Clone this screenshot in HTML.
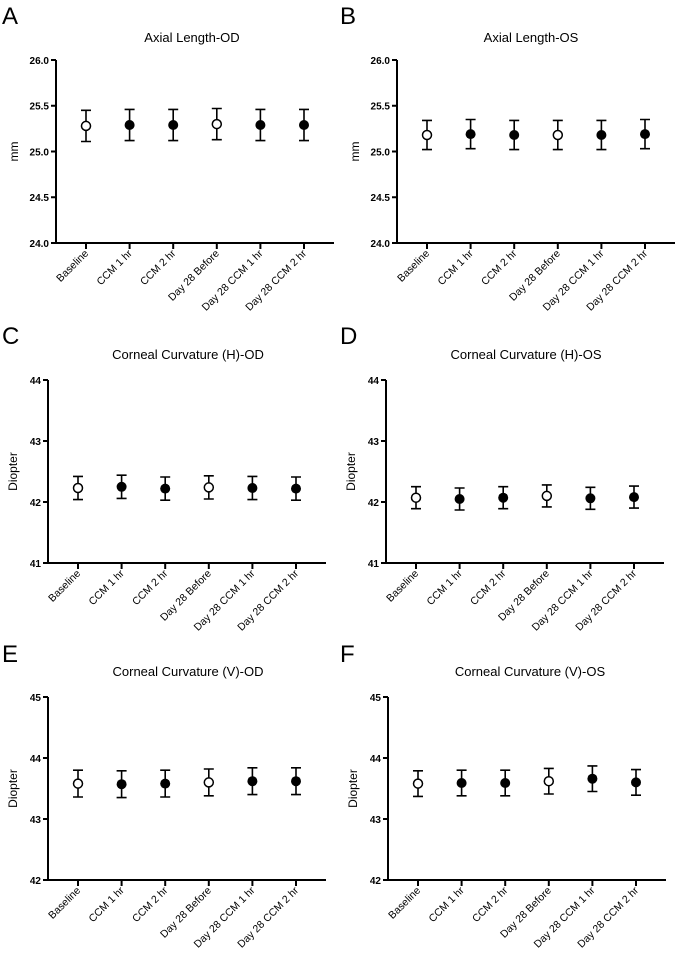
<!DOCTYPE html>
<html><head><meta charset="utf-8"><style>
body{margin:0;background:#fff}
svg{display:block;font-family:"Liberation Sans",sans-serif}
.ax{stroke:#000;stroke-width:2;fill:none}
.eb{stroke:#000;stroke-width:1.6;fill:none}
.tl{font-size:10px;text-anchor:end;font-weight:bold}
.xl{font-size:10.5px;text-anchor:end}
.tt{font-size:13px;text-anchor:middle}
.yl{font-size:12px;text-anchor:middle}
.pl{font-size:24px}
</style></head><body>
<svg width="675" height="954" viewBox="0 0 675 954">
<defs>
<g id="xt">
<line class="ax" x1="30" y1="183" x2="30" y2="189"/><line class="ax" x1="73.6" y1="183" x2="73.6" y2="189"/><line class="ax" x1="117.2" y1="183" x2="117.2" y2="189"/><line class="ax" x1="160.8" y1="183" x2="160.8" y2="189"/><line class="ax" x1="204.4" y1="183" x2="204.4" y2="189"/><line class="ax" x1="248" y1="183" x2="248" y2="189"/>
<path class="ax" d="M0,0V183H278"/>
</g>
</defs>

<text class="pl" x="2" y="24">A</text>
<text class="pl" x="340" y="24">B</text>
<text class="pl" x="2" y="344">C</text>
<text class="pl" x="340" y="344">D</text>
<text class="pl" x="2" y="662">E</text>
<text class="pl" x="340" y="662">F</text>

<!-- A -->
<g transform="translate(56,60)">
<use href="#xt"/>
<line class="ax" x1="-5" y1="0" x2="0" y2="0"/><line class="ax" x1="-5" y1="45.75" x2="0" y2="45.75"/><line class="ax" x1="-5" y1="91.5" x2="0" y2="91.5"/><line class="ax" x1="-5" y1="137.25" x2="0" y2="137.25"/><line class="ax" x1="-5" y1="183" x2="0" y2="183"/>
<text class="tl" x="-7" y="4">26.0</text><text class="tl" x="-7" y="49.5">25.5</text><text class="tl" x="-7" y="95.5">25.0</text><text class="tl" x="-7" y="141">24.5</text><text class="tl" x="-7" y="187">24.0</text>
<text class="yl" transform="translate(-38,91.5) rotate(-90)">mm</text>
<text class="tt" x="136" y="-18">Axial Length-OD</text>
<path class="eb" d="M30,50.3V81.5M25,50.3H35M25,81.5H35 M73.6,49.4V80.6M68.6,49.4H78.6M68.6,80.6H78.6 M117.2,49.4V80.6M112.2,49.4H122.2M112.2,80.6H122.2 M160.8,48.5V79.7M155.8,48.5H165.8M155.8,79.7H165.8 M204.4,49.4V80.6M199.4,49.4H209.4M199.4,80.6H209.4 M248,49.4V80.6M243,49.4H253M243,80.6H253"/>
<circle cx="30" cy="65.9" r="4.5" fill="#fff" stroke="#000" stroke-width="1.5"/><circle cx="73.6" cy="65" r="5"/><circle cx="117.2" cy="65" r="5"/><circle cx="160.8" cy="64.1" r="4.5" fill="#fff" stroke="#000" stroke-width="1.5"/><circle cx="204.4" cy="65" r="5"/><circle cx="248" cy="65" r="5"/>
<g class="xl"><text transform="translate(33,194) rotate(-45)">Baseline</text><text transform="translate(76.6,194) rotate(-45)">CCM 1 hr</text><text transform="translate(120.2,194) rotate(-45)">CCM 2 hr</text><text transform="translate(163.8,194) rotate(-45)">Day 28 Before</text><text transform="translate(207.4,194) rotate(-45)">Day 28 CCM 1 hr</text><text transform="translate(251,194) rotate(-45)">Day 28 CCM 2 hr</text></g>
</g>

<!-- B -->
<g transform="translate(397,60)">
<use href="#xt"/>
<line class="ax" x1="-5" y1="0" x2="0" y2="0"/><line class="ax" x1="-5" y1="45.75" x2="0" y2="45.75"/><line class="ax" x1="-5" y1="91.5" x2="0" y2="91.5"/><line class="ax" x1="-5" y1="137.25" x2="0" y2="137.25"/><line class="ax" x1="-5" y1="183" x2="0" y2="183"/>
<text class="tl" x="-7" y="4">26.0</text><text class="tl" x="-7" y="49.5">25.5</text><text class="tl" x="-7" y="95.5">25.0</text><text class="tl" x="-7" y="141">24.5</text><text class="tl" x="-7" y="187">24.0</text>
<text class="yl" transform="translate(-38,91.5) rotate(-90)">mm</text>
<text class="tt" x="134" y="-18">Axial Length-OS</text>
<path class="eb" d="M30,60.4V89.6M25,60.4H35M25,89.6H35 M73.6,59.5V88.7M68.6,59.5H78.6M68.6,88.7H78.6 M117.2,60.4V89.6M112.2,60.4H122.2M112.2,89.6H122.2 M160.8,60.4V89.6M155.8,60.4H165.8M155.8,89.6H165.8 M204.4,60.4V89.6M199.4,60.4H209.4M199.4,89.6H209.4 M248,59.5V88.7M243,59.5H253M243,88.7H253"/>
<circle cx="30" cy="75" r="4.5" fill="#fff" stroke="#000" stroke-width="1.5"/><circle cx="73.6" cy="74.1" r="5"/><circle cx="117.2" cy="75" r="5"/><circle cx="160.8" cy="75" r="4.5" fill="#fff" stroke="#000" stroke-width="1.5"/><circle cx="204.4" cy="75" r="5"/><circle cx="248" cy="74.1" r="5"/>
<g class="xl"><text transform="translate(33,194) rotate(-45)">Baseline</text><text transform="translate(76.6,194) rotate(-45)">CCM 1 hr</text><text transform="translate(120.2,194) rotate(-45)">CCM 2 hr</text><text transform="translate(163.8,194) rotate(-45)">Day 28 Before</text><text transform="translate(207.4,194) rotate(-45)">Day 28 CCM 1 hr</text><text transform="translate(251,194) rotate(-45)">Day 28 CCM 2 hr</text></g>
</g>

<!-- C -->
<g transform="translate(48,380)">
<use href="#xt"/>
<line class="ax" x1="-5" y1="0" x2="0" y2="0"/><line class="ax" x1="-5" y1="61" x2="0" y2="61"/><line class="ax" x1="-5" y1="122" x2="0" y2="122"/><line class="ax" x1="-5" y1="183" x2="0" y2="183"/>
<text class="tl" x="-7" y="4">44</text><text class="tl" x="-7" y="65">43</text><text class="tl" x="-7" y="126">42</text><text class="tl" x="-7" y="187">41</text>
<text class="yl" transform="translate(-31,91.5) rotate(-90)">Diopter</text>
<text class="tt" x="140" y="-21">Corneal Curvature (H)-OD</text>
<path class="eb" d="M30,96.4V119.6M25,96.4H35M25,119.6H35 M73.6,95.2V118.4M68.6,95.2H78.6M68.6,118.4H78.6 M117.2,97V120.2M112.2,97H122.2M112.2,120.2H122.2 M160.8,95.8V119M155.8,95.8H165.8M155.8,119H165.8 M204.4,96.4V119.6M199.4,96.4H209.4M199.4,119.6H209.4 M248,97V120.2M243,97H253M243,120.2H253"/>
<circle cx="30" cy="108" r="4.5" fill="#fff" stroke="#000" stroke-width="1.5"/><circle cx="73.6" cy="106.8" r="5"/><circle cx="117.2" cy="108.6" r="5"/><circle cx="160.8" cy="107.4" r="4.5" fill="#fff" stroke="#000" stroke-width="1.5"/><circle cx="204.4" cy="108" r="5"/><circle cx="248" cy="108.6" r="5"/>
<g class="xl"><text transform="translate(33,194) rotate(-45)">Baseline</text><text transform="translate(76.6,194) rotate(-45)">CCM 1 hr</text><text transform="translate(120.2,194) rotate(-45)">CCM 2 hr</text><text transform="translate(163.8,194) rotate(-45)">Day 28 Before</text><text transform="translate(207.4,194) rotate(-45)">Day 28 CCM 1 hr</text><text transform="translate(251,194) rotate(-45)">Day 28 CCM 2 hr</text></g>
</g>

<!-- D -->
<g transform="translate(386,380)">
<use href="#xt"/>
<line class="ax" x1="-5" y1="0" x2="0" y2="0"/><line class="ax" x1="-5" y1="61" x2="0" y2="61"/><line class="ax" x1="-5" y1="122" x2="0" y2="122"/><line class="ax" x1="-5" y1="183" x2="0" y2="183"/>
<text class="tl" x="-7" y="4">44</text><text class="tl" x="-7" y="65">43</text><text class="tl" x="-7" y="126">42</text><text class="tl" x="-7" y="187">41</text>
<text class="yl" transform="translate(-31,91.5) rotate(-90)">Diopter</text>
<text class="tt" x="140" y="-21">Corneal Curvature (H)-OS</text>
<path class="eb" d="M30,106.7V128.7M25,106.7H35M25,128.7H35 M73.6,108V130M68.6,108H78.6M68.6,130H78.6 M117.2,106.7V128.7M112.2,106.7H122.2M112.2,128.7H122.2 M160.8,104.9V126.9M155.8,104.9H165.8M155.8,126.9H165.8 M204.4,107.3V129.3M199.4,107.3H209.4M199.4,129.3H209.4 M248,106.1V128.1M243,106.1H253M243,128.1H253"/>
<circle cx="30" cy="117.7" r="4.5" fill="#fff" stroke="#000" stroke-width="1.5"/><circle cx="73.6" cy="119" r="5"/><circle cx="117.2" cy="117.7" r="5"/><circle cx="160.8" cy="115.9" r="4.5" fill="#fff" stroke="#000" stroke-width="1.5"/><circle cx="204.4" cy="118.3" r="5"/><circle cx="248" cy="117.1" r="5"/>
<g class="xl"><text transform="translate(33,194) rotate(-45)">Baseline</text><text transform="translate(76.6,194) rotate(-45)">CCM 1 hr</text><text transform="translate(120.2,194) rotate(-45)">CCM 2 hr</text><text transform="translate(163.8,194) rotate(-45)">Day 28 Before</text><text transform="translate(207.4,194) rotate(-45)">Day 28 CCM 1 hr</text><text transform="translate(251,194) rotate(-45)">Day 28 CCM 2 hr</text></g>
</g>

<!-- E -->
<g transform="translate(48,697)">
<use href="#xt"/>
<line class="ax" x1="-5" y1="0" x2="0" y2="0"/><line class="ax" x1="-5" y1="61" x2="0" y2="61"/><line class="ax" x1="-5" y1="122" x2="0" y2="122"/><line class="ax" x1="-5" y1="183" x2="0" y2="183"/>
<text class="tl" x="-7" y="4">45</text><text class="tl" x="-7" y="65">44</text><text class="tl" x="-7" y="126">43</text><text class="tl" x="-7" y="187">42</text>
<text class="yl" transform="translate(-31,91.5) rotate(-90)">Diopter</text>
<text class="tt" x="140" y="-21">Corneal Curvature (V)-OD</text>
<path class="eb" d="M30,73.2V100M25,73.2H35M25,100H35 M73.6,73.8V100.6M68.6,73.8H78.6M68.6,100.6H78.6 M117.2,73.2V100M112.2,73.2H122.2M112.2,100H122.2 M160.8,72V98.8M155.8,72H165.8M155.8,98.8H165.8 M204.4,70.8V97.6M199.4,70.8H209.4M199.4,97.6H209.4 M248,70.8V97.6M243,70.8H253M243,97.6H253"/>
<circle cx="30" cy="86.6" r="4.5" fill="#fff" stroke="#000" stroke-width="1.5"/><circle cx="73.6" cy="87.2" r="5"/><circle cx="117.2" cy="86.6" r="5"/><circle cx="160.8" cy="85.4" r="4.5" fill="#fff" stroke="#000" stroke-width="1.5"/><circle cx="204.4" cy="84.2" r="5"/><circle cx="248" cy="84.2" r="5"/>
<g class="xl"><text transform="translate(33,194) rotate(-45)">Baseline</text><text transform="translate(76.6,194) rotate(-45)">CCM 1 hr</text><text transform="translate(120.2,194) rotate(-45)">CCM 2 hr</text><text transform="translate(163.8,194) rotate(-45)">Day 28 Before</text><text transform="translate(207.4,194) rotate(-45)">Day 28 CCM 1 hr</text><text transform="translate(251,194) rotate(-45)">Day 28 CCM 2 hr</text></g>
</g>

<!-- F -->
<g transform="translate(388,697)">
<use href="#xt"/>
<line class="ax" x1="-5" y1="0" x2="0" y2="0"/><line class="ax" x1="-5" y1="61" x2="0" y2="61"/><line class="ax" x1="-5" y1="122" x2="0" y2="122"/><line class="ax" x1="-5" y1="183" x2="0" y2="183"/>
<text class="tl" x="-7" y="4">45</text><text class="tl" x="-7" y="65">44</text><text class="tl" x="-7" y="126">43</text><text class="tl" x="-7" y="187">42</text>
<text class="yl" transform="translate(-31,91.5) rotate(-90)">Diopter</text>
<text class="tt" x="142" y="-21">Corneal Curvature (V)-OS</text>
<path class="eb" d="M30,73.8V99.4M25,73.8H35M25,99.4H35 M73.6,73.2V98.8M68.6,73.2H78.6M68.6,98.8H78.6 M117.2,73.2V98.8M112.2,73.2H122.2M112.2,98.8H122.2 M160.8,71.4V97M155.8,71.4H165.8M155.8,97H165.8 M204.4,68.9V94.5M199.4,68.9H209.4M199.4,94.5H209.4 M248,72.6V98.2M243,72.6H253M243,98.2H253"/>
<circle cx="30" cy="86.6" r="4.5" fill="#fff" stroke="#000" stroke-width="1.5"/><circle cx="73.6" cy="86" r="5"/><circle cx="117.2" cy="86" r="5"/><circle cx="160.8" cy="84.2" r="4.5" fill="#fff" stroke="#000" stroke-width="1.5"/><circle cx="204.4" cy="81.7" r="5"/><circle cx="248" cy="85.4" r="5"/>
<g class="xl"><text transform="translate(33,194) rotate(-45)">Baseline</text><text transform="translate(76.6,194) rotate(-45)">CCM 1 hr</text><text transform="translate(120.2,194) rotate(-45)">CCM 2 hr</text><text transform="translate(163.8,194) rotate(-45)">Day 28 Before</text><text transform="translate(207.4,194) rotate(-45)">Day 28 CCM 1 hr</text><text transform="translate(251,194) rotate(-45)">Day 28 CCM 2 hr</text></g>
</g>
</svg>
</body></html>
